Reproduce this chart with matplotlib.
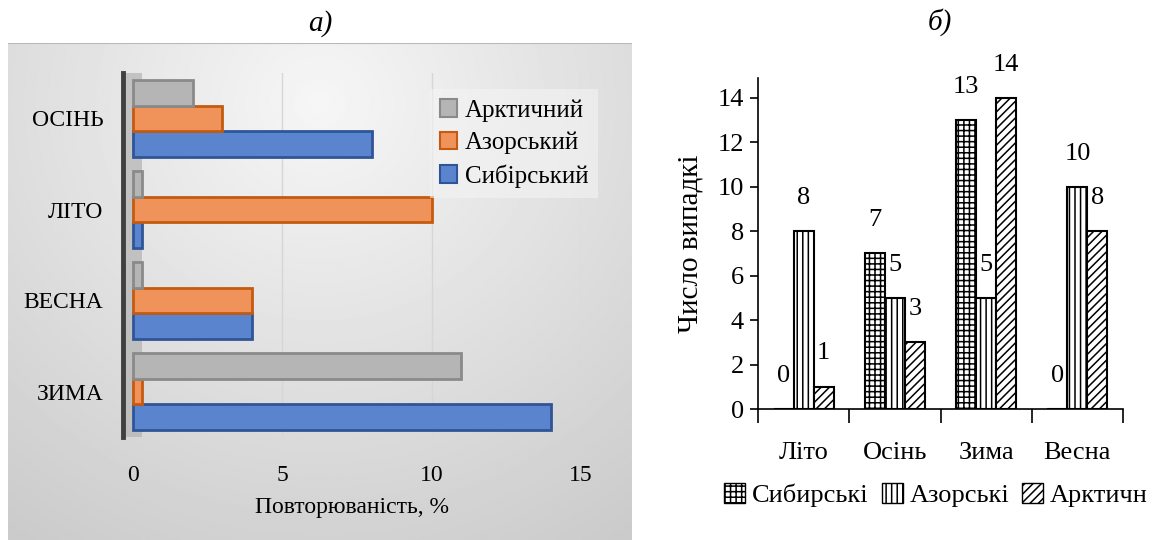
import matplotlib.pyplot as plt
import numpy as np
from matplotlib.patches import Patch

plt.rcParams['font.family'] = ['Liberation Serif', 'DejaVu Serif']
plt.rcParams['hatch.linewidth'] = 1.1
plt.rcParams['hatch.color'] = 'black'

# --- дані: а) повторюваність, % ---
seasons_a = ['ЗИМА', 'ВЕСНА', 'ЛІТО', 'ОСІНЬ']
sib_a = [14, 4, 0, 8]
azor_a = [0, 4, 10, 3]
arct_a = [11, 0, 0, 2]

# --- дані: б) число випадків ---
seasons_b = ['Літо', 'Осінь', 'Зима', 'Весна']
sib_b = [0, 7, 13, 0]
azor_b = [8, 5, 5, 10]
arct_b = [1, 3, 14, 8]

W, H = 1172, 540
fig = plt.figure(figsize=(W / 100, H / 100), dpi=100)

# фон лівої діаграми (сірий градієнт)
bg = fig.add_axes([8 / W, 0, 624 / W, (H - 43) / H], zorder=-5)
gx, gy = np.meshgrid(np.linspace(0, 1, 300), np.linspace(0, 1, 300))
dist = np.sqrt(((gx - 0.5) * 1.1) ** 2 + ((gy - 0.12) * 0.9) ** 2)
shade = 0.965 - 0.17 * np.clip(dist / 0.95, 0, 1)
bg.imshow(shade, cmap='gray', vmin=0, vmax=1, aspect='auto', origin='upper',
          extent=[0, 1, 0, 1])
bg.axhline(1, color='#b8b8b8', lw=1.5)
bg.set_axis_off()

# ---------- а) ----------
ax1 = fig.add_axes([123 / W, (H - 437) / H, 458 / W, 364 / H])
ax1.set_facecolor('none')
y = np.arange(len(seasons_a))
h = 0.28
stub = 0.3
series_a = [
    ('Сибірський', sib_a, -h, '#5b84cf', '#2f5597'),
    ('Азорський', azor_a, 0, '#f0935a', '#c55a11'),
    ('Арктичний', arct_a, h, '#b5b5b5', '#8a8a8a'),
]
# бічна стінка
ax1.axvspan(-0.33, 0.32, color='#b3b3b3', alpha=0.7, zorder=1, lw=0)
handles = []
for name, vals, off, fc, ec in series_a:
    vals = np.array(vals, dtype=float)
    shown = np.where(vals == 0, stub, vals)
    ax1.barh(y + off, shown, height=h, color=fc, edgecolor=ec, linewidth=2,
             zorder=3)
    handles.append(Patch(facecolor=fc, edgecolor=ec, linewidth=1.5, label=name))

ax1.set_xlim(-0.33, 15)
ax1.set_ylim(-0.5, 3.5)
ax1.set_xticks([0, 5, 10, 15])
ax1.set_yticks(y)
ax1.set_yticklabels(seasons_a, fontsize=17)
ax1.tick_params(axis='x', length=0, pad=20, labelsize=17)
ax1.tick_params(axis='y', length=0, pad=14)
for xv in [5, 10, 15]:
    ax1.axvline(xv, color='#d6d6d6', lw=1, zorder=0)
for s in ['top', 'right', 'bottom']:
    ax1.spines[s].set_visible(False)
ax1.spines['left'].set_color('#404040')
ax1.spines['left'].set_linewidth(3.5)
ax1.set_xlabel('Повторюваність, %', fontsize=17, labelpad=8)
leg1 = ax1.legend(handles=handles[::-1], loc='upper right',
                  bbox_to_anchor=(1.065, 0.99), fontsize=18, frameon=True,
                  fancybox=False, handlelength=0.7, handleheight=0.7,
                  handletextpad=0.3, labelspacing=0.4, borderpad=0.4)
leg1.get_frame().set_facecolor('#f4f4f4')
leg1.get_frame().set_alpha(0.6)
leg1.get_frame().set_edgecolor('none')

# ---------- б) ----------
ax2 = fig.add_axes([758 / W, (H - 409) / H, 365 / W, 331 / H])
x = np.arange(len(seasons_b))
w = 0.22
series_b = [
    ('Сибирські', sib_b, -w, '+++'),
    ('Азорські', azor_b, 0, '|||'),
    ('Арктичн', arct_b, w, '////'),
]
handles2 = []
for name, vals, off, hatch in series_b:
    ax2.bar(x + off, vals, width=w, color='white', edgecolor='black',
            linewidth=1.5, hatch=hatch, zorder=3)
    for xi, v in zip(x + off, vals):
        ax2.text(xi, v + 1.5, str(v), ha='center', va='center', fontsize=19)
    handles2.append(Patch(facecolor='white', edgecolor='black', hatch=hatch,
                          label=name))

ax2.set_xlim(-0.5, 3.5)
ax2.set_ylim(0, 14.9)
ax2.set_yticks(np.arange(0, 15, 2))
ax2.set_xticks(x)
ax2.set_xticklabels(seasons_b, fontsize=19)
ax2.set_xticks(np.arange(-0.5, 3.6, 1), minor=True)
ax2.tick_params(axis='x', which='major', length=0, pad=24)
ax2.tick_params(axis='x', which='minor', length=10, width=1.2, direction='out')
ax2.tick_params(axis='y', length=6, width=1.2, labelsize=19, pad=4)
for s in ['top', 'right']:
    ax2.spines[s].set_visible(False)
for s in ['left', 'bottom']:
    ax2.spines[s].set_linewidth(1.2)
ax2.set_ylabel('Число випадкі', fontsize=21, labelpad=10)
fig.legend(handles=handles2, loc='center', bbox_to_anchor=(936 / W, 1 - 495 / H),
           ncol=3, frameon=False, fontsize=19, handlelength=0.8,
           handleheight=0.8, handletextpad=0.25, columnspacing=0.5)

# підписи панелей
fig.text(320 / W, 1 - 24 / H, 'а)', ha='center', va='center', fontsize=21,
         style='italic')
fig.text(940 / W, 1 - 22 / H, 'б)', ha='center', va='center', fontsize=21,
         style='italic')

fig.savefig('out.png', dpi=100)
